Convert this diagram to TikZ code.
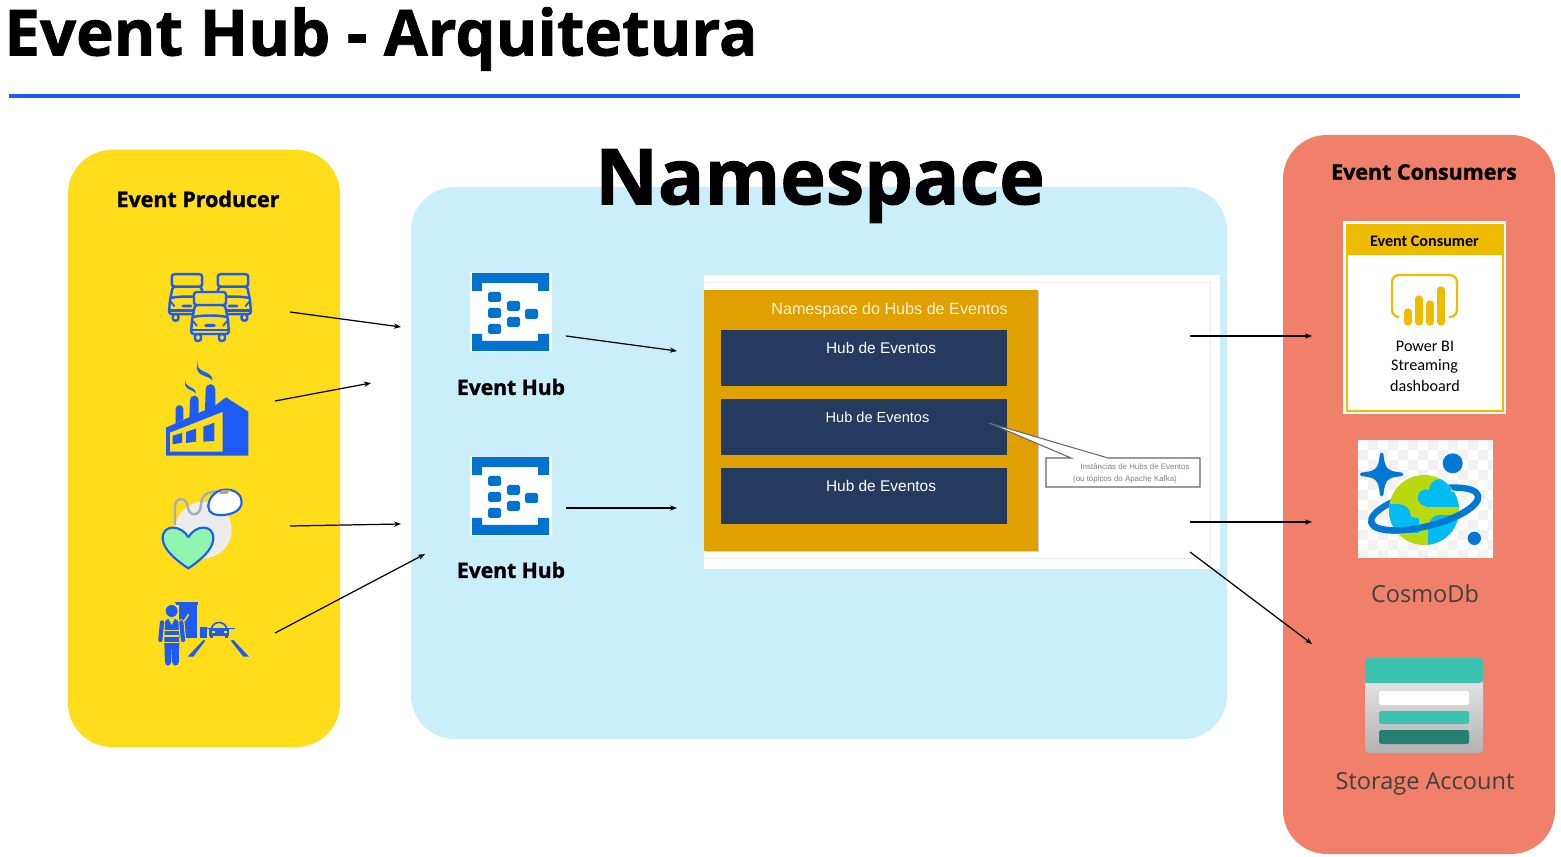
\documentclass[tikz,border=0pt]{standalone}
\usepackage{fontspec}
\setmainfont{Open Sans}
\newfontfamily\heavyfont{Open Sans}[BoldFeatures={FakeBold=1.3}]
\newfontfamily\calfont{Carlito}
\newfontfamily\arialfont{Liberation Sans}
\usetikzlibrary{arrows.meta}
\definecolor{prodyellow}{HTML}{FFDD1A}
\definecolor{nsblue}{HTML}{CBEEFB}
\definecolor{conssalmon}{HTML}{F0806A}
\definecolor{iconblue}{HTML}{1C5CF5}
\definecolor{cablegray}{HTML}{A8ADB8}
\definecolor{heartgreen}{HTML}{90F5AE}
\definecolor{hubblue}{HTML}{0072D0}
\definecolor{hubnavy}{HTML}{243A5E}
\definecolor{hubgold}{HTML}{E0A000}
\definecolor{bigold}{HTML}{EEBC00}
\definecolor{cosmoblue}{HTML}{0078D4}
\definecolor{cosmosky}{HTML}{00BCF2}
\definecolor{cosmolime}{HTML}{B9D80E}
\definecolor{stteal}{HTML}{3BC2B0}
\definecolor{stdark}{HTML}{268071}
\newcommand{\fsz}[1]{\fontsize{#1}{#1}\selectfont}
\tikzset{
  band/.style={rounded corners=#1,draw=none},
  flow/.style={-{Stealth[length=4pt,width=3pt]},line width=0.7pt,black},
  hubbox/.style={fill=hubnavy,draw=none},
  hubtext/.style={text=white,font=\arialfont\fsz{8.8},inner sep=0pt},
  blab/.style={font=\heavyfont\bfseries\fsz{12.2},inner sep=0pt},
  pics/hubicon/.style={code={
    \fill[white] (0,0) rectangle (82,80);
    \fill[hubblue] (2,1) -- (79,1) -- (79,19) -- (68,19) -- (68,11) -- (12,11)
      -- (12,19) -- (2,19) -- cycle;
    \fill[hubblue] (2,79) -- (79,79) -- (79,62) -- (68,62) -- (68,69) -- (12,69)
      -- (12,62) -- (2,62) -- cycle;
    \fill[hubblue,rounded corners=1pt] (18,20) rectangle (31,30);
    \fill[hubblue,rounded corners=1pt] (18,36) rectangle (31,46);
    \fill[hubblue,rounded corners=1pt] (18,52) rectangle (31,62);
    \fill[hubblue,rounded corners=1pt] (37,29) rectangle (50,39);
    \fill[hubblue,rounded corners=1pt] (37,45) rectangle (50,55);
    \fill[hubblue,rounded corners=1pt] (55,37) rectangle (68,47);
  }},
  pics/truckicon/.style={code={
    \begin{scope}[line width=1.4pt,draw=iconblue,rounded corners=1.5pt,line join=round]
      \draw[fill=prodyellow] (-15,-11) -- (-18,4) -- (-19,18) -- (19,18) -- (18,4)
        -- (15,-11) -- cycle;
      \draw[fill=prodyellow] (-16,-24) rectangle (16,-11);
      \draw[fill=prodyellow] (-15,18) rectangle (-9,25);
      \draw[fill=prodyellow] (9,18) rectangle (15,25);
      \draw (-17,1) .. controls (-8,-1) and (8,-1) .. (17,1);
      \draw (-20,14) -- (20,14);
    \end{scope}
    \draw[iconblue,line width=1pt] (-13,10) -- (-17,5);
    \draw[iconblue,line width=1pt] (13,10) -- (17,5);
    \fill[iconblue,rounded corners=1pt] (-6,8) rectangle (6,11);
  }}
}
\begin{document}
\begin{tikzpicture}[x=0.02cm,y=-0.02cm]
  \useasboundingbox (0,0) rectangle (1561,857);
  \fill[white] (0,0) rectangle (1561,857);
  % Title
  \node[anchor=west,inner sep=0pt,font=\heavyfont\bfseries\fsz{36.2}] (title) at (4,39)
    {Event Hub - Arquitetura};
  \draw[line width=1.8pt,color=iconblue] (9,96) -- (1520,96);
  % Background
  % -- bands
  \fill[band=25pt,prodyellow] (68,150) rectangle (340,747);
  \fill[band=25pt,nsblue] (411,187) rectangle (1227,739);
  \fill[band=25pt,conssalmon] (1283,135) rectangle (1555,854);
  % Band labels
  \node[blab] (prodlabel) at (198,199) {Event Producer};
  \node[blab] (conslabel) at (1424,172) {Event Consumers};
  \node[inner sep=0pt,font=\heavyfont\bfseries\fsz{43.9}] (nslabel) at (820,186) {Namespace};
  % Producer icons
  % -- trucks
  \pic[scale=0.95] at (187,297) {truckicon};
  \pic[scale=0.95] at (233,297) {truckicon};
  \pic at (210,316) {truckicon};
  % -- factory
  \begin{scope}[shift={(140,260)},scale=1/3]
    \fill[iconblue] (107,490) -- (107,447) arc[start angle=180,end angle=360,
      radius=11.5] -- (130,478) -- cycle;
    \fill[iconblue] (148,476) -- (150,420) arc[start angle=180,end angle=360,
      radius=13] -- (176,462) -- cycle;
    \fill[iconblue] (195,452) -- (197,387) arc[start angle=180,end angle=360,
      radius=14.5] -- (226,440) -- cycle;
    \fill[iconblue] (78,503) -- (78,587) -- (325,587) -- (325,455) -- (258,412)
      -- (225,437) -- cycle;
    \fill[prodyellow] (90,518) -- (248,456) -- (248,575) -- (90,575) -- cycle;
    \fill[iconblue] (98,527) -- (126,519) -- (126,548) -- (98,553) -- cycle;
    \fill[iconblue] (138,516) -- (168,506) -- (168,545) -- (138,549) -- cycle;
    \fill[iconblue] (190,500) -- (223,488) -- (223,543) -- (190,545) -- cycle;
    \fill[iconblue] (175,297) .. controls (160,345) and (215,325) .. (218,362)
      .. controls (205,342) and (155,355) .. cycle;
    \fill[iconblue] (138,357) .. controls (128,385) and (165,375) .. (168,400)
      .. controls (155,385) and (125,392) .. cycle;
  \end{scope}
  % -- heart
  \begin{scope}[shift={(140,475)},scale=1/3]
    \fill[gray!15] (190,165) circle (85);
    \draw[line width=1.4pt,color=cablegray] (105,150) -- (105,95)
      .. controls (105,65) and (140,65) .. (143,95)
      .. controls (146,125) and (180,128) .. (183,90)
      .. controls (185,55) and (205,50) .. (245,48);
    \draw[line width=1.2pt,draw=iconblue,fill=white] (205,95)
      .. controls (205,70) and (225,45) .. (255,44)
      .. controls (285,42) and (305,60) .. (305,80)
      .. controls (305,105) and (280,118) .. (250,120)
      .. controls (225,122) and (205,115) .. cycle;
    \fill[gray!70] (238,57) -- (245,45) -- (270,45) -- (262,57) -- cycle;
    \draw[line width=1.2pt,draw=iconblue,fill=heartgreen] (145,187)
      .. controls (125,150) and (68,145) .. (68,190)
      .. controls (68,225) and (115,260) .. (145,280)
      .. controls (175,260) and (220,225) .. (220,190)
      .. controls (220,145) and (165,150) .. cycle;
  \end{scope}
  % -- worker
  \begin{scope}[shift={(140,475)},scale=1/3]
    \fill[iconblue] (95,382) rectangle (173,390);
    \fill[iconblue] (118,390) rectangle (170,488);
    \draw[prodyellow,line width=0.9pt] (133,438) -- (146,418);
    \draw[prodyellow,line width=3.6pt,line cap=round] (124,442) -- (129,495);
    \draw[iconblue,line width=2.4pt,line cap=round] (124,442) -- (129,495);
    \fill[prodyellow] (85,395) circle (24);
    \fill[iconblue] (95,408) circle (18);
    \fill[iconblue,rounded corners=2pt] (75,432) -- (115,432) -- (118,500)
      -- (116,572) -- (97,572) -- (95,505) -- (93,572) -- (75,572) -- (73,500) -- cycle;
    \draw[iconblue,line width=2.4pt,line cap=round] (66,442) -- (61,495);
    \fill[prodyellow] (73,464) rectangle (118,469);
    \fill[prodyellow] (73,481) rectangle (118,486);
    \fill[prodyellow] (73,500) rectangle (118,504);
    \fill[prodyellow] (86,432) -- (95,450) -- (104,432) -- cycle;
    \fill[iconblue] (181,455) rectangle (200,488);
    \draw[iconblue,line width=0.9pt,fill=prodyellow] (214,462) .. controls (220,436) and (254,436) .. (261,462);
    \fill[iconblue] (208,462) rectangle (267,483);
    \fill[iconblue] (211,483) rectangle (220,490);
    \fill[iconblue] (255,483) rectangle (264,490);
    \fill[prodyellow] (215,468) rectangle (224,474);
    \fill[prodyellow] (251,468) rectangle (260,474);
    \draw[iconblue,line width=0.9pt] (200,460) -- (285,460);
    \fill[iconblue] (143,545) -- (160,545) -- (196,497) -- (190,495) -- cycle;
    \fill[iconblue] (272,497) -- (280,495) -- (327,545) -- (310,545) -- cycle;
  \end{scope}
  % Event hubs
  \pic at (470,272) {hubicon};
  \pic at (470,456) {hubicon};
  \node[blab,font=\heavyfont\bfseries\fsz{12}] (hublabela) at (511,387) {Event Hub};
  \node[blab,font=\heavyfont\bfseries\fsz{12}] (hublabelb) at (511,570) {Event Hub};
  % Namespace panel
  \fill[white] (704,275) rectangle (1220,569);
  \draw[gray!15,line width=0.4pt] (704,282) -- (1210,282) -- (1210,558) -- (704,558);
  \fill[gray!35] (705,291) rectangle (1039,552);
  \fill[hubgold] (704,290) rectangle (1038,551);
  \node[text=white!85!hubgold,font=\arialfont\fsz{9.2},inner sep=0pt] (panellabel)
    at (889.5,310) {Namespace do Hubs de Eventos};
  \fill[hubbox] (721,330) rectangle (1007,386);
  \fill[hubbox] (721,399) rectangle (1007,455);
  \fill[hubbox] (721,468) rectangle (1007,524);
  \node[hubtext] (huba) at (881,348) {Hub de Eventos};
  \node[hubtext,font=\arialfont\fsz{8.3}] (hubb) at (877.5,417) {Hub de Eventos};
  \node[hubtext] (hubc) at (881,486) {Hub de Eventos};
  % -- callout
  \draw[fill=white,draw=gray!80!black,line width=0.6pt] (1046,458) -- (1071,458)
    -- (989,423) -- (1108,458) -- (1200,458) -- (1200,487) -- (1046,487) -- cycle;
  \node[text=gray,font=\arialfont\fsz{4.5},inner sep=0pt] (calla) at (1135,467)
    {Instâncias de Hubs de Eventos};
  \node[text=gray,font=\arialfont\fsz{4.5},inner sep=0pt] (callb) at (1125,479)
    {(ou tópicos do Apache Kafka)};
  % Power BI card
  \fill[white] (1343,221) rectangle (1506,414);
  \draw[bigold,line width=1.2pt] (1347,225) rectangle (1503,411);
  \fill[bigold] (1346,224) rectangle (1504,255);
  \node[font=\calfont\bfseries\fsz{9.2},inner sep=0pt] (cardhead) at (1424.5,241)
    {Event Consumer};
  \draw[bigold,line width=1.3pt,rounded corners=4pt] (1397,317) -- (1392,317) -- (1392,275)
    -- (1457,275) -- (1457,317) -- (1449,317);
  \draw[bigold,line width=4.2pt,line cap=round] (1408,312) -- (1408,322);
  \draw[bigold,line width=4.2pt,line cap=round] (1419,299) -- (1419,322);
  \draw[bigold,line width=4.2pt,line cap=round] (1430,304) -- (1430,322);
  \draw[bigold,line width=4.2pt,line cap=round] (1441,290) -- (1441,322);
  \node[font=\calfont\fsz{9.2},inner sep=0pt] (carda) at (1425,346.5) {Power BI};
  \node[font=\calfont\fsz{9.2},inner sep=0pt] (cardb) at (1424.5,366.5) {Streaming};
  \node[font=\calfont\fsz{9.2},inner sep=0pt] (cardc) at (1425,385.5) {dashboard};
  % CosmoDb icon
  \fill[white] (1358,440) rectangle (1493,558);
  \begin{scope}
    \clip (1358,440) rectangle (1493,558);
    \foreach \i in {0,...,13} \foreach \j in {0,...,11} {
      \pgfmathparse{int(mod(\i+\j,2))}
      \ifnum\pgfmathresult=1
        \fill[gray!10] (1358+\i*10,440+\j*10) rectangle +(10,10);
      \fi
    }
  \end{scope}
  \begin{scope}[shift={(1350,435)},scale=1/3]
    \draw[cosmoblue,line width=3.6pt,rotate around={14:(224,222)}] (224,222)
      ellipse [x radius=165,y radius=52];
    \fill[cosmolime] (222,225) circle (105);
    \begin{scope}
      \clip (222,225) circle (105);
      \fill[cosmosky] (228,188) circle (25);
      \fill[cosmosky] (270,165) circle (33);
      \fill[cosmosky] (228,170) rectangle (335,215);
      \fill[cosmosky] (145,245) circle (38);
      \fill[cosmosky] (185,268) circle (22);
      \fill[cosmosky] (110,207) rectangle (145,295);
      \fill[cosmosky] (145,250) rectangle (207,295);
      \fill[cosmosky] (268,270) circle (30);
      \fill[cosmosky] (268,240) rectangle (335,335);
      \fill[cosmosky] (233,270) rectangle (335,335);
    \end{scope}
    \draw[cosmoblue,line width=3.6pt,rotate around={14:(224,222)}] (389,222)
      arc[start angle=0,end angle=180,x radius=165,y radius=52];
    \fill[cosmoblue,draw=cosmoblue,line width=2pt,line join=round] (95,58)
      .. controls (100,105) and (108,113) .. (155,118)
      .. controls (108,123) and (100,131) .. (95,179)
      .. controls (90,131) and (82,123) .. (35,118)
      .. controls (82,113) and (90,105) .. cycle;
    \fill[cosmoblue] (308,85) circle (30);
    \fill[cosmoblue] (373,310) circle (20);
  \end{scope}
  \node[inner sep=0pt,text=black!75,font=\fsz{13.4}] (cosmolabel) at (1425,594) {CosmoDb};
  % Storage icon
  \shade[top color=gray!22,bottom color=gray!60,rounded corners=2pt]
    (1365,680) rectangle (1483,753);
  \fill[stteal,rounded corners=2pt] (1365,683) -- (1365,658) -- (1483,658) -- (1483,683)
    [sharp corners] -- cycle;
  \fill[white,rounded corners=1pt] (1379,691) rectangle (1469,705);
  \fill[stteal,rounded corners=1pt] (1379,711) rectangle (1469,724);
  \fill[stdark,rounded corners=1pt] (1379,730) rectangle (1469,744);
  \node[inner sep=0pt,text=black!75,font=\fsz{13.4}] (storagelabel) at (1425,784)
    {Storage Account};
  % Connectors
  \coordinate (truckout) at (290,312);
  \coordinate (truckin) at (401,327);
  \coordinate (factoryout) at (275,401);
  \coordinate (factoryin) at (371,383);
  \coordinate (heartout) at (290,526);
  \coordinate (heartin) at (401,524);
  \coordinate (workerout) at (275,633);
  \coordinate (workerin) at (425,554);
  \coordinate (hubaout) at (566,336);
  \coordinate (hubain) at (677,351);
  \coordinate (hubbout) at (566,508);
  \coordinate (hubbin) at (677,508);
  \coordinate (panelouta) at (1190,336);
  \coordinate (bi) at (1312,336);
  \coordinate (paneloutb) at (1190,522);
  \coordinate (cosmo) at (1312,522);
  \coordinate (paneloutc) at (1190,552);
  \coordinate (storage) at (1312,644);
  \draw[flow] (truckout) -- (truckin);
  \draw[flow] (factoryout) -- (factoryin);
  \draw[flow] (heartout) -- (heartin);
  \draw[flow] (workerout) -- (workerin);
  \draw[flow] (hubaout) -- (hubain);
  \draw[flow] (hubbout) -- (hubbin);
  \draw[flow] (panelouta) -- (bi);
  \draw[flow] (paneloutb) -- (cosmo);
  \draw[flow] (paneloutc) -- (storage);
\end{tikzpicture}
\end{document}
